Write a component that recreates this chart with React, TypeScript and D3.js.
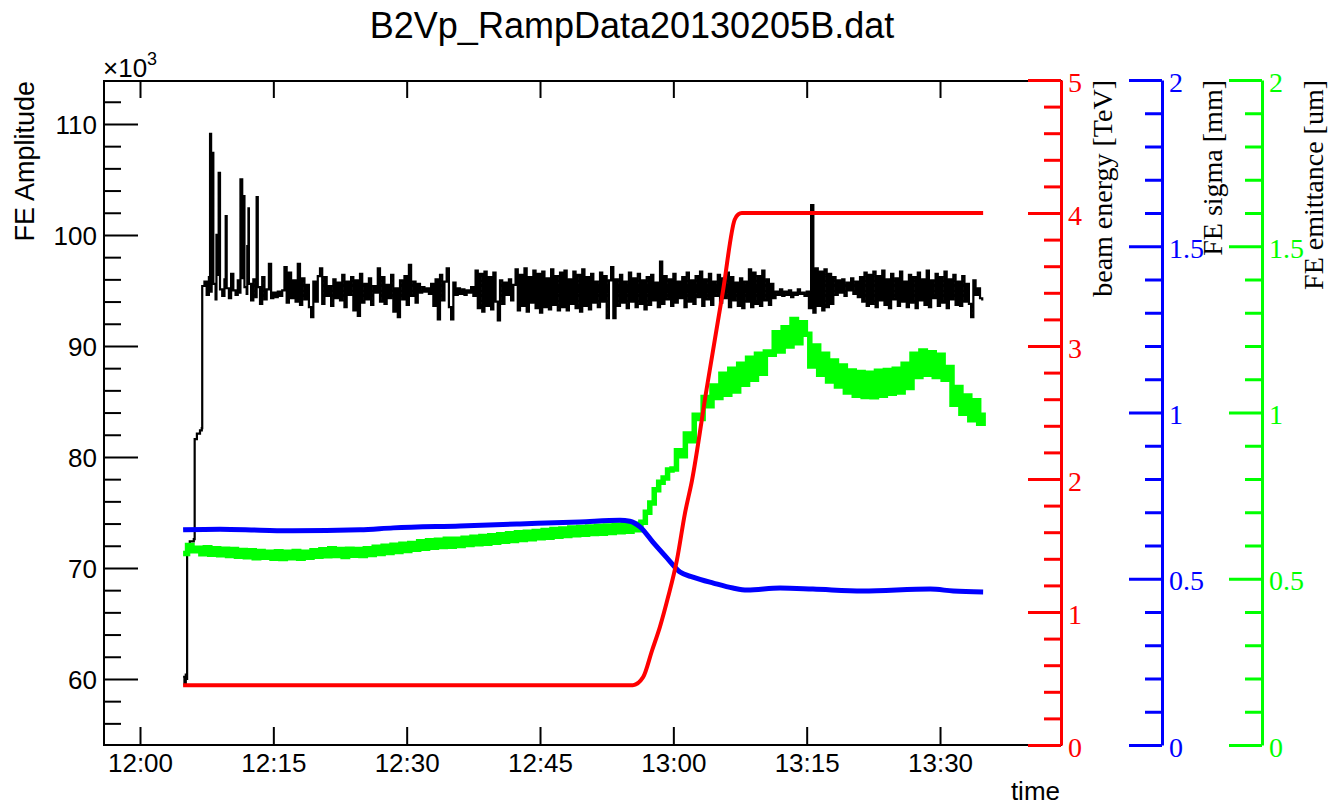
import React, { useRef, useEffect } from "react";
import * as d3 from "d3";

// all times are minutes after 12:00 on 2013-02-05
const TITLE = "B2Vp_RampData20130205B.dat";

// FE amplitude [x10^3]: switch-on steps, then a dense noisy band, plus isolated spikes
const ampEarly: [number, number][] = [
  [4.85, 60.2], [5.0, 59.5], [5.15, 60.4], [5.25, 60.0], [5.3, 72.1], [5.6, 72.4],
  [6.05, 72.6], [6.15, 81.6], [6.4, 82.1], [6.75, 82.4], [6.95, 82.6], [7.0, 95.4]
];
const ampSpikes: [number, number][] = [
  [7.88, 109.1], [8.06, 107.4], [8.6, 100.0], [8.85, 105.6], [9.64, 101.7], [11.3, 105.0],
  [11.55, 103.5], [12.07, 99.0], [12.2, 102.4], [13.12, 103.4], [75.5, 102.7]
];
const ampBandStart = 7.25;
const ampBandStep = 0.25;
const ampBand = [
  95.8, 94.6, 96.2, 94.9, 95.6, 94.2, 96.4, 95.1, 94.5, 96.0, 95.2, 94.3, 96.5, 95.0, 94.6, 95.9, 94.8, 96.1, 95.3, 94.7,
  95.6, 94.1, 96.0, 94.4, 95.3, 93.8, 96.2, 94.2, 95.1, 97.4, 94.3, 94.8, 94.4, 94.9, 94.5, 95.0, 97.1, 93.9, 96.6, 94.3,
  95.9, 94.0, 97.4, 93.7, 96.1, 94.2, 95.5, 93.5, 92.6, 95.8, 94.0, 96.3, 97.0, 93.8, 96.2, 94.5, 95.4, 93.6, 96.0, 94.3,
  95.7, 94.1, 96.4, 93.5, 95.8, 94.6, 96.2, 93.2, 95.9, 92.7, 96.5, 93.9, 95.6, 94.2, 96.1, 93.7, 95.4, 94.8, 97.0, 94.0,
  96.2, 93.8, 95.5, 94.3, 96.4, 93.1, 95.2, 92.6, 95.9, 94.2, 96.3, 93.7, 97.3, 94.5, 95.8, 93.9, 95.6, 94.8, 95.3, 94.9,
  95.2, 94.7, 95.6, 93.6, 96.0, 92.4, 96.4, 94.1, 95.8, 97.0, 93.5, 92.4, 95.7, 94.6, 95.2, 94.7, 95.1, 94.6, 95.0, 94.8,
  95.3, 94.5, 96.8, 93.4, 96.5, 93.1, 96.7, 93.6, 96.2, 93.3, 96.6, 94.0, 92.3, 95.9, 93.8, 95.7, 94.6, 96.0, 94.1, 95.5,
  96.9, 93.2, 96.4, 93.6, 97.0, 93.1, 96.2, 93.9, 96.8, 93.4, 96.5, 93.0, 96.7, 93.5, 96.1, 93.3, 96.9, 93.7, 96.3, 93.2,
  96.6, 93.5, 96.8, 93.2, 96.0, 93.8, 96.7, 93.4, 96.4, 93.1, 96.9, 93.6, 96.2, 93.3, 96.5, 93.9, 95.8, 93.5, 96.6, 94.0,
  96.3, 92.5, 95.9, 97.1, 92.5, 96.0, 93.6, 96.4, 93.9, 95.8, 93.4, 96.6, 94.0, 96.1, 93.5, 96.5, 93.8, 95.9, 93.3, 96.2,
  93.7, 96.4, 94.1, 95.7, 93.5, 97.6, 93.8, 96.3, 94.2, 96.0, 93.6, 96.5, 93.9, 95.8, 94.3, 96.2, 93.5, 96.6, 94.0, 95.9,
  93.8, 96.3, 94.4, 96.7, 93.6, 96.0, 94.2, 96.5, 93.7, 95.8, 94.5, 96.4, 93.9, 96.1, 94.3, 96.6, 93.5, 96.2, 94.1, 95.7,
  93.6, 96.1, 93.4, 95.8, 94.0, 96.9, 93.5, 96.6, 93.8, 96.3, 93.6, 96.8, 94.1, 96.0, 93.7, 95.6, 94.3, 94.9, 94.6, 95.1,
  94.5, 94.9, 94.6, 95.0, 94.4, 94.8, 94.6, 95.1, 94.7, 94.8, 94.5, 94.9, 93.4, 96.8, 93.0, 97.0, 93.6, 96.7, 93.2, 96.9,
  93.5, 96.5, 93.8, 96.2, 94.6, 95.9, 94.8, 96.0, 94.5, 95.7, 95.0, 96.1, 94.7, 95.8, 94.4, 96.2, 94.0, 96.6, 93.6, 96.4,
  93.8, 96.7, 93.5, 96.3, 94.1, 96.8, 93.7, 96.0, 93.4, 96.5, 94.2, 96.1, 93.6, 96.7, 94.0, 95.8, 93.5, 96.4, 93.9, 96.2,
  93.4, 96.6, 94.1, 96.0, 93.7, 96.8, 93.5, 95.9, 94.3, 96.5, 93.6, 96.2, 93.9, 96.7, 93.4, 96.0, 94.2, 96.4, 93.7, 95.8,
  93.6, 96.3, 94.0, 95.6, 93.8, 92.6, 95.9, 94.6, 95.2, 94.3, 94.1
];

// beam energy [TeV]
const energy: [number, number][] = [
  [4.85, 0.45], [55.45, 0.45], [56.6, 0.51], [57.6, 0.71], [58.5, 0.89], [59.4, 1.11],
  [60.4, 1.39], [61.3, 1.74], [62.1, 1.99], [63.7, 2.66], [65.6, 3.42], [66.9, 3.95],
  [67.3, 3.99], [67.7, 4.0], [94.85, 4.0]
];

// FE sigma [mm]
const sigma: [number, number][] = [
  [4.85, 0.647], [9, 0.649], [13.5, 0.646], [17.2, 0.644], [24.75, 0.647], [28.5, 0.653],
  [36, 0.659], [42.75, 0.665], [49.5, 0.671], [54, 0.676], [55.1, 0.673], [56.25, 0.656],
  [57.7, 0.61], [59.3, 0.562], [60.75, 0.52], [62.2, 0.505], [64.5, 0.487], [66.7, 0.472],
  [68.3, 0.466], [72, 0.472], [75.7, 0.469], [81.3, 0.463], [88.9, 0.469], [91.5, 0.463],
  [94.85, 0.46]
];

// FE emittance [um]
const emitStart = 4.85;
const emitStep = 0.5;
const emittance = [
  0.576, 0.600, 0.584, 0.592, 0.575, 0.593, 0.574, 0.590, 0.572, 0.589,
  0.570, 0.588, 0.568, 0.585, 0.566, 0.584, 0.563, 0.582, 0.565, 0.580,
  0.562, 0.581, 0.561, 0.580, 0.563, 0.582, 0.562, 0.580, 0.565, 0.584,
  0.568, 0.587, 0.569, 0.590, 0.570, 0.588, 0.567, 0.589, 0.571, 0.588,
  0.570, 0.590, 0.573, 0.595, 0.576, 0.598, 0.579, 0.601, 0.582, 0.604,
  0.585, 0.606, 0.589, 0.611, 0.592, 0.614, 0.595, 0.616, 0.597, 0.619,
  0.598, 0.619, 0.600, 0.622, 0.603, 0.625, 0.605, 0.627, 0.607, 0.629,
  0.610, 0.632, 0.613, 0.635, 0.615, 0.638, 0.618, 0.640, 0.620, 0.642,
  0.623, 0.645, 0.625, 0.648, 0.628, 0.650, 0.630, 0.653, 0.632, 0.654,
  0.634, 0.656, 0.636, 0.658, 0.637, 0.659, 0.639, 0.661, 0.641, 0.663,
  0.643, 0.664, 0.647, 0.670, 0.700, 0.728, 0.768, 0.790, 0.803, 0.827,
  0.830, 0.885, 0.870, 0.935, 0.915, 0.992, 0.982, 1.045, 1.020, 1.080,
  1.045, 1.115, 1.055, 1.130, 1.065, 1.145, 1.085, 1.163, 1.100, 1.175,
  1.118, 1.182, 1.175, 1.240, 1.185, 1.255, 1.200, 1.280, 1.210, 1.270,
  1.235, 1.140, 1.200, 1.115, 1.175, 1.095, 1.155, 1.080, 1.140, 1.062,
  1.125, 1.052, 1.120, 1.048, 1.118, 1.047, 1.124, 1.052, 1.126, 1.058,
  1.130, 1.062, 1.145, 1.075, 1.175, 1.108, 1.185, 1.115, 1.180, 1.108,
  1.172, 1.100, 1.135, 1.025, 1.075, 0.998, 1.050, 0.978, 1.035, 0.968,
  1.0
];

const ampTicks = [60, 70, 80, 90, 100, 110];
const energyTicks = [0, 1, 2, 3, 4, 5];
const mmTicks = [0, 0.5, 1, 1.5, 2];

const SANS = "'Liberation Sans', Arial, Helvetica, sans-serif";
const SERIF = "'Liberation Serif', 'Times New Roman', serif";

const at = (m: number) => new Date(Date.UTC(2013, 1, 5, 12, 0, 0) + m * 60000);

const x = d3.scaleUtc().domain([at(-4.05), at(103.61)]).range([104, 1061]);
const yAmp = d3.scaleLinear().domain([54.05, 113.87]).range([745, 81]);
const yEnergy = d3.scaleLinear().domain([0, 5]).range([745, 80]);
const ySigma = d3.scaleLinear().domain([0, 2]).range([745, 80]);
const yEmit = d3.scaleLinear().domain([0, 2]).range([745, 80]);

const notOn = (step: number) => (v: number) => Math.abs(v / step - Math.round(v / step)) > 1e-6;
const ampMinor = d3.range(56, 114, 2).filter(notOn(10));
const energyMinor = d3.range(0, 5.001, 0.2).filter(notOn(1));
const mmMinor = d3.range(0, 2.001, 0.1).filter(notOn(0.5));

const ampSeries: [number, number][] = ampEarly
  .concat(ampBand.map((v, i) => [ampBandStart + i * ampBandStep, v] as [number, number]), ampSpikes)
  .sort((a, b) => a[0] - b[0]);
const emitSeries: [number, number][] = emittance.map((v, i) => [emitStart + i * emitStep, v]);

const App = () => {
  const svgRef = useRef<SVGSVGElement>(null);

  useEffect(() => {
    const svg = d3.select(svgRef.current);
    const fmt = d3.format("~g");

    const dress = (g: any, color: string, family: string, size: number, width: number) => {
      g.attr("color", color).attr("font-family", family).attr("font-size", size);
      g.selectAll("line").attr("stroke-width", width);
      g.selectAll("path.domain").attr("stroke-width", width);
    };

    // left amplitude axis, ticks pointing inward
    const ampMinorG = svg.select(".amp-minor");
    ampMinorG.call(d3.axisLeft(yAmp).tickValues(ampMinor).tickSize(-17).tickFormat(() => "") as any);
    ampMinorG.select(".domain").remove();
    dress(ampMinorG, "#000", SANS, 26, 2);
    const ampMajorG = svg.select(".amp-major");
    ampMajorG.call(d3.axisLeft(yAmp).tickValues(ampTicks).tickSize(-34).tickPadding(7) as any);
    ampMajorG.select(".domain").remove();
    dress(ampMajorG, "#000", SANS, 26, 2);
    ampMajorG.selectAll("text").attr("dy", "0.36em");

    // time axis, bottom with labels, top with ticks only
    const every15 = d3.utcMinute.every(15) as any;
    const bottomG = svg.select(".time-axis");
    bottomG.call(
      d3.axisBottom(x).ticks(every15).tickFormat(d3.utcFormat("%H:%M") as any).tickSize(-18).tickPadding(9) as any
    );
    bottomG.select(".domain").remove();
    dress(bottomG, "#000", SANS, 26, 2);
    const topG = svg.select(".time-top");
    topG.call(d3.axisTop(x).ticks(every15).tickSize(-17).tickFormat(() => "") as any);
    topG.select(".domain").remove();
    dress(topG, "#000", SANS, 26, 2);

    // three coloured right-hand axes
    const rightAxis = (cls: string, scale: any, major: number[], minor: number[], color: string) => {
      const minorG = svg.select(`.${cls}-minor`);
      minorG.call(d3.axisRight(scale).tickValues(minor).tickSize(-17).tickSizeOuter(0).tickFormat(() => "") as any);
      minorG.select(".domain").remove();
      dress(minorG, color, SERIF, 28, 3);
      const majorG = svg.select(`.${cls}-major`);
      majorG.call(
        d3.axisRight(scale).tickValues(major).tickSize(-33).tickSizeOuter(0).tickPadding(7).tickFormat(fmt as any) as any
      );
      dress(majorG, color, SERIF, 28, 3);
      majorG.selectAll("text").attr("dy", "0.4em");
    };
    rightAxis("energy", yEnergy, energyTicks, energyMinor, "#ff0000");
    rightAxis("sigma", ySigma, mmTicks, mmMinor, "#0000ff");
    rightAxis("emit", yEmit, mmTicks, mmMinor, "#00ff00");
  }, []);

  const ampLine = d3
    .line<[number, number]>()
    .x(d => x(at(d[0])))
    .y(d => yAmp(d[1]))
    .curve(d3.curveStepAfter);
  const energyLine = d3
    .line<[number, number]>()
    .x(d => x(at(d[0])))
    .y(d => yEnergy(d[1]))
    .curve(d3.curveMonotoneX);
  const sigmaLine = d3
    .line<[number, number]>()
    .x(d => x(at(d[0])))
    .y(d => ySigma(d[1]))
    .curve(d3.curveMonotoneX);
  const emitLine = d3
    .line<[number, number]>()
    .x(d => x(at(d[0])))
    .y(d => yEmit(d[1]))
    .curve(d3.curveStepAfter);

  return (
    <svg
      ref={svgRef}
      width={1334}
      height={806}
      viewBox="0 0 1334 806"
      style={{ position: "absolute", left: 0, top: 0, background: "#fff" }}
    >
      <rect x={104} y={81} width={957} height={664} fill="none" stroke="#000" strokeWidth={2} />
      <g className="amp-minor" transform="translate(104,0)"></g>
      <g className="amp-major" transform="translate(104,0)"></g>
      <g className="time-axis" transform="translate(0,745)"></g>
      <g className="time-top" transform="translate(0,81)"></g>

      <path d={ampLine(ampSeries) || ""} fill="none" stroke="#000" strokeWidth={2.2} />
      <path d={emitLine(emitSeries) || ""} fill="none" stroke="#00ff00" strokeWidth={5.5} />
      <path d={sigmaLine(sigma) || ""} fill="none" stroke="#0000ff" strokeWidth={5} />
      <path d={energyLine(energy) || ""} fill="none" stroke="#ff0000" strokeWidth={4} />

      <g className="energy-minor" transform="translate(1061,0)"></g>
      <g className="energy-major" transform="translate(1061,0)"></g>
      <g className="sigma-minor" transform="translate(1162,0)"></g>
      <g className="sigma-major" transform="translate(1162,0)"></g>
      <g className="emit-minor" transform="translate(1262,0)"></g>
      <g className="emit-major" transform="translate(1262,0)"></g>

      <text x={632} y={38} textAnchor="middle" fontFamily={SANS} fontSize={36} fill="#000">
        {TITLE}
      </text>
      <text x={103} y={77} fontFamily={SANS} fontSize={26} fill="#000">
        ×10
        <tspan dy={-12} fontSize={18}>
          3
        </tspan>
      </text>
      <text transform="translate(34,81) rotate(-90)" textAnchor="end" fontFamily={SANS} fontSize={27} fill="#000">
        FE Amplitude
      </text>
      <text x={1060} y={800} textAnchor="end" fontFamily={SANS} fontSize={26} fill="#000">
        time
      </text>
      <text transform="translate(1112,80) rotate(-90)" textAnchor="end" fontFamily={SERIF} fontSize={28} fill="#000">
        beam energy [TeV]
      </text>
      <text transform="translate(1222,80) rotate(-90)" textAnchor="end" fontFamily={SERIF} fontSize={28} fill="#000">
        FE sigma [mm]
      </text>
      <text transform="translate(1323,80) rotate(-90)" textAnchor="end" fontFamily={SERIF} fontSize={28} fill="#000">
        FE emittance [um]
      </text>
    </svg>
  );
};

export default App;
